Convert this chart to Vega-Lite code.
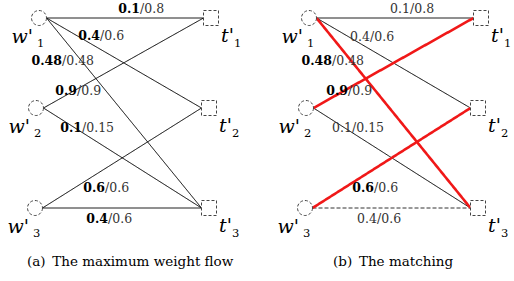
{
  "$schema": "https://vega.github.io/schema/vega-lite/v6.json",
  "width": 514,
  "height": 281,
  "autosize": {"type": "fit", "contains": "padding"},
  "padding": 0,
  "background": "white",
  "config": {"view": {"stroke": null}, "text": {"font": "DejaVu Serif"}},
  "datasets": {
    "nodes": [
      {"key": "a-w1", "panel": "a", "kind": "worker", "name": "w'", "sub": "1", "x": 39, "y": 18},
      {"key": "a-w2", "panel": "a", "kind": "worker", "name": "w'", "sub": "2", "x": 36, "y": 108},
      {"key": "a-w3", "panel": "a", "kind": "worker", "name": "w'", "sub": "3", "x": 35, "y": 208},
      {"key": "a-t1", "panel": "a", "kind": "task", "name": "t'", "sub": "1", "x": 211, "y": 18},
      {"key": "a-t2", "panel": "a", "kind": "task", "name": "t'", "sub": "2", "x": 209, "y": 108},
      {"key": "a-t3", "panel": "a", "kind": "task", "name": "t'", "sub": "3", "x": 209, "y": 208},
      {"key": "b-w1", "panel": "b", "kind": "worker", "name": "w'", "sub": "1", "x": 309, "y": 18},
      {"key": "b-w2", "panel": "b", "kind": "worker", "name": "w'", "sub": "2", "x": 306, "y": 108},
      {"key": "b-w3", "panel": "b", "kind": "worker", "name": "w'", "sub": "3", "x": 305, "y": 208},
      {"key": "b-t1", "panel": "b", "kind": "task", "name": "t'", "sub": "1", "x": 481, "y": 18},
      {"key": "b-t2", "panel": "b", "kind": "task", "name": "t'", "sub": "2", "x": 478, "y": 108},
      {"key": "b-t3", "panel": "b", "kind": "task", "name": "t'", "sub": "3", "x": 478, "y": 208}
    ],
    "edges": [
      {"src": "a-w1", "dst": "a-t1", "state": "flow"},
      {"src": "a-w1", "dst": "a-t2", "state": "flow"},
      {"src": "a-w1", "dst": "a-t3", "state": "flow"},
      {"src": "a-w2", "dst": "a-t1", "state": "flow"},
      {"src": "a-w2", "dst": "a-t3", "state": "flow"},
      {"src": "a-w3", "dst": "a-t2", "state": "flow"},
      {"src": "a-w3", "dst": "a-t3", "state": "flow"},
      {"src": "b-w1", "dst": "b-t1", "state": "kept"},
      {"src": "b-w1", "dst": "b-t2", "state": "kept"},
      {"src": "b-w2", "dst": "b-t3", "state": "kept"},
      {"src": "b-w3", "dst": "b-t3", "state": "dropped"},
      {"src": "b-w1", "dst": "b-t3", "state": "matched"},
      {"src": "b-w2", "dst": "b-t1", "state": "matched"},
      {"src": "b-w3", "dst": "b-t2", "state": "matched"}
    ],
    "labels": [
      {"x": 140, "y": 13, "flow": "0.1", "cap": "/0.8", "bold": true},
      {"x": 100, "y": 40, "flow": "0.4", "cap": "/0.6", "bold": true},
      {"x": 62, "y": 65, "flow": "0.48", "cap": "/0.48", "bold": true},
      {"x": 77, "y": 95, "flow": "0.9", "cap": "/0.9", "bold": true},
      {"x": 82, "y": 132, "flow": "0.1", "cap": "/0.15", "bold": true},
      {"x": 105, "y": 192, "flow": "0.6", "cap": "/0.6", "bold": true},
      {"x": 108, "y": 223, "flow": "0.4", "cap": "/0.6", "bold": true},
      {"x": 410, "y": 13, "flow": "0.1", "cap": "/0.8", "bold": false},
      {"x": 370, "y": 41, "flow": "0.4", "cap": "/0.6", "bold": false},
      {"x": 332, "y": 65, "flow": "0.48", "cap": "/0.48", "bold": true},
      {"x": 348, "y": 95, "flow": "0.9", "cap": "/0.9", "bold": true},
      {"x": 352, "y": 132, "flow": "0.1", "cap": "/0.15", "bold": false},
      {"x": 374, "y": 192, "flow": "0.6", "cap": "/0.6", "bold": true},
      {"x": 377, "y": 223, "flow": "0.4", "cap": "/0.6", "bold": false}
    ],
    "captions": [
      {"x": 27, "y": 266, "text": "(a)\u2002The maximum weight flow"},
      {"x": 333, "y": 266, "text": "(b)\u2002The matching"}
    ]
  },
  "layer": [
    {
      "data": {"name": "edges"},
      "transform": [
        {"lookup": "src", "from": {"data": {"name": "nodes"}, "key": "key", "fields": ["x", "y"]}, "as": ["sx", "sy"]},
        {"lookup": "dst", "from": {"data": {"name": "nodes"}, "key": "key", "fields": ["x", "y"]}, "as": ["tx", "ty"]}
      ],
      "mark": {"type": "rule", "xOffset": 7.5, "x2Offset": -7.5},
      "encoding": {
        "x": {"field": "sx", "type": "quantitative", "scale": {"domain": [0, 514], "nice": false, "zero": false}, "axis": null},
        "x2": {"field": "tx"},
        "y": {"field": "sy", "type": "quantitative", "scale": {"domain": [0, 281], "nice": false, "zero": false, "reverse": true}, "axis": null},
        "y2": {"field": "ty"},
        "color": {"field": "state", "type": "nominal", "scale": {"domain": ["flow", "kept", "matched", "dropped"], "range": ["#000000", "#000000", "#f01818", "#333333"]}, "legend": null},
        "strokeWidth": {"condition": {"test": "datum.state === 'matched'", "value": 2.6}, "value": 1},
        "strokeDash": {"field": "state", "type": "nominal", "scale": {"domain": ["flow", "kept", "matched", "dropped"], "range": [[1, 0], [1, 0], [1, 0], [4, 2]]}, "legend": null}
      }
    },
    {
      "data": {"name": "nodes"},
      "mark": {"type": "point", "filled": true, "fill": "white", "stroke": "#444444", "strokeWidth": 1, "strokeDash": [3, 2], "size": 225, "opacity": 1},
      "encoding": {
        "x": {"field": "x", "type": "quantitative"},
        "y": {"field": "y", "type": "quantitative"},
        "shape": {"field": "kind", "type": "nominal", "scale": {"domain": ["worker", "task"], "range": ["circle", "square"]}, "legend": null}
      }
    },
    {
      "data": {"name": "nodes"},
      "transform": [{"filter": "datum.kind === 'worker'"}],
      "mark": {"type": "text", "fontStyle": "italic", "fontSize": 19, "align": "right", "baseline": "alphabetic", "dx": -6, "dy": 25, "fill": "#000000"},
      "encoding": {
        "x": {"field": "x", "type": "quantitative"},
        "y": {"field": "y", "type": "quantitative"},
        "text": {"field": "name"}
      }
    },
    {
      "data": {"name": "nodes"},
      "transform": [{"filter": "datum.kind === 'worker'"}],
      "mark": {"type": "text", "fontSize": 11.5, "align": "left", "baseline": "alphabetic", "dx": -2, "dy": 29, "fill": "#000000"},
      "encoding": {
        "x": {"field": "x", "type": "quantitative"},
        "y": {"field": "y", "type": "quantitative"},
        "text": {"field": "sub"}
      }
    },
    {
      "data": {"name": "nodes"},
      "transform": [{"filter": "datum.kind === 'task'"}],
      "mark": {"type": "text", "fontStyle": "italic", "fontSize": 19, "align": "left", "baseline": "alphabetic", "dx": 10, "dy": 24, "fill": "#000000"},
      "encoding": {
        "x": {"field": "x", "type": "quantitative"},
        "y": {"field": "y", "type": "quantitative"},
        "text": {"field": "name"}
      }
    },
    {
      "data": {"name": "nodes"},
      "transform": [{"filter": "datum.kind === 'task'"}],
      "mark": {"type": "text", "fontSize": 11.5, "align": "left", "baseline": "alphabetic", "dx": 23, "dy": 29, "fill": "#000000"},
      "encoding": {
        "x": {"field": "x", "type": "quantitative"},
        "y": {"field": "y", "type": "quantitative"},
        "text": {"field": "sub"}
      }
    },
    {
      "data": {"name": "labels"},
      "transform": [{"filter": "datum.bold"}],
      "mark": {"type": "text", "fontSize": 12.5, "fontWeight": "bold", "align": "right", "baseline": "alphabetic", "fill": "#000000"},
      "encoding": {
        "x": {"field": "x", "type": "quantitative"},
        "y": {"field": "y", "type": "quantitative"},
        "text": {"field": "flow"}
      }
    },
    {
      "data": {"name": "labels"},
      "transform": [{"filter": "!datum.bold"}],
      "mark": {"type": "text", "fontSize": 12.5, "align": "right", "baseline": "alphabetic", "fill": "#333333"},
      "encoding": {
        "x": {"field": "x", "type": "quantitative"},
        "y": {"field": "y", "type": "quantitative"},
        "text": {"field": "flow"}
      }
    },
    {
      "data": {"name": "labels"},
      "mark": {"type": "text", "fontSize": 12.5, "align": "left", "baseline": "alphabetic", "fill": "#333333"},
      "encoding": {
        "x": {"field": "x", "type": "quantitative"},
        "y": {"field": "y", "type": "quantitative"},
        "text": {"field": "cap"}
      }
    },
    {
      "data": {"name": "captions"},
      "mark": {"type": "text", "fontSize": 13.5, "align": "left", "baseline": "alphabetic", "fill": "#000000"},
      "encoding": {
        "x": {"field": "x", "type": "quantitative"},
        "y": {"field": "y", "type": "quantitative"},
        "text": {"field": "text"}
      }
    }
  ]
}
